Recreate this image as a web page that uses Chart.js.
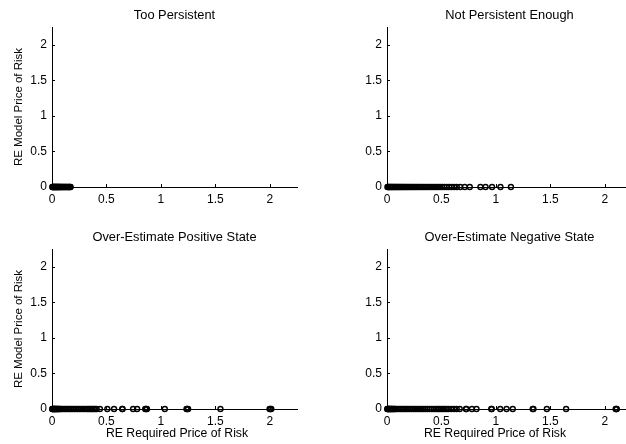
<!DOCTYPE html>
<html><head><meta charset="utf-8">
<script src="https://cdn.jsdelivr.net/npm/chart.js@4/dist/chart.umd.min.js"></script>
<style>
html,body{margin:0;padding:0;background:#fff;overflow:hidden;width:626px;height:444px;position:relative;}
canvas{position:absolute;}
</style></head><body>
<canvas id="c1" width="313" height="222" style="left:0;top:0"></canvas>
<canvas id="c2" width="340" height="222" style="left:313px;top:0"></canvas>
<canvas id="c3" width="313" height="222" style="left:0;top:222px"></canvas>
<canvas id="c4" width="340" height="222" style="left:313px;top:222px"></canvas>
<script>
// ---- data (x = RE Required Price of Risk, y = RE Model Price of Risk) ----
const xTicks = [0, 0.5, 1, 1.5, 2];
const yTicks = [0, 0.5, 1, 1.5, 2];
const titles = ["Too Persistent", "Not Persistent Enough", "Over-Estimate Positive State", "Over-Estimate Negative State"];
const xLabel = "RE Required Price of Risk";
const yLabel = "RE Model Price of Risk";

const tooPersistentReq = [0.003,0.006,0.01,0.013,0.017,0.021,0.024,0.029,0.033,0.036,0.041,0.045,0.049,0.054,0.058,0.063,0.068,0.072,0.077,0.083,0.088,0.094,0.1,0.107,0.113,0.12,0.127,0.133,0.14,0.147,0.153,0.16,0.166,0.171];
const tooPersistentModel = [0,0,0,0,0,0,0,0,0,0, 0,0,0,0,0,0,0,0,0,0, 0,0,0,0,0,0,0,0,0,0, 0,0,0,0];

const notEnoughReq = [0.004,0.01,0.016,0.023,0.03,0.037,0.045,0.052,0.06,0.068,0.077,0.085,0.094,0.103,0.112,0.122,0.131,0.141,0.152,0.162,0.173,0.184,0.196,0.208,0.22,0.233,0.246,0.259,0.273,0.287,0.301,0.316,0.331,0.347,0.363,0.38,0.397,0.414,0.432,0.45,0.468,0.487,0.507,0.527,0.548,0.57,0.593,0.617,0.641,0.672,0.714,0.76,0.858,0.905,0.965,1.042,1.138];
const notEnoughModel = [0,0,0,0,0,0,0,0,0,0, 0,0,0,0,0,0,0,0,0,0, 0,0,0,0,0,0,0,0,0,0, 0,0,0,0,0,0,0,0,0,0, 0,0,0,0,0,0,0,0,0,0, 0,0,0,0,0,0,0];

const posStateReq = [0.002,0.005,0.008,0.012,0.015,0.019,0.023,0.027,0.031,0.036,0.041,0.046,0.051,0.057,0.063,0.07,0.077,0.09,0.104,0.118,0.131,0.146,0.16,0.174,0.189,0.204,0.219,0.235,0.251,0.268,0.285,0.302,0.32,0.333,0.347,0.36,0.372,0.385,0.398,0.41,0.44,0.508,0.57,0.645,0.648,0.745,0.782,0.856,0.865,0.872,1.036,1.235,1.242,1.25,1.547,1.998,2.006,2.014];
const posStateModel = [0,0,0,0,0,0,0,0,0,0, 0,0,0,0,0,0,0,0,0,0, 0,0,0,0,0,0,0,0,0,0, 0,0,0,0,0,0,0,0,0,0, 0,0,0,0,0,0,0,0,0,0, 0,0,0,0,0,0,0,0];

const negStateReq = [0.002,0.006,0.01,0.014,0.019,0.024,0.029,0.034,0.04,0.046,0.052,0.059,0.066,0.074,0.082,0.097,0.112,0.127,0.142,0.158,0.174,0.19,0.207,0.224,0.241,0.259,0.277,0.295,0.313,0.332,0.351,0.37,0.39,0.41,0.43,0.448,0.465,0.48,0.497,0.512,0.53,0.548,0.565,0.59,0.615,0.64,0.668,0.726,0.728,0.78,0.822,0.958,0.962,1.04,1.098,1.155,1.338,1.345,1.468,1.645,2.1,2.106,2.11];
const negStateModel = [0,0,0,0,0,0,0,0,0,0, 0,0,0,0,0,0,0,0,0,0, 0,0,0,0,0,0,0,0,0,0, 0,0,0,0,0,0,0,0,0,0, 0,0,0,0,0,0,0,0,0,0, 0,0,0,0,0,0,0,0,0,0, 0,0,0];

const FONT = '"Liberation Sans", Arial, Helvetica, sans-serif';

function pairs(xs, ys) { return xs.map((x, i) => ({ x: x, y: ys[i] })); }

const decorPlugin = {
  id: 'decor',
  afterDatasetsDraw(chart, args, o) {
    const ctx = chart.ctx, a = chart.chartArea;
    const xs = chart.scales.x, ys = chart.scales.y;
    ctx.save();
    ctx.strokeStyle = '#000';
    ctx.lineWidth = 1;
    ctx.beginPath();
    xTicks.forEach(v => { if (v === 0) return; const p = Math.round(xs.getPixelForValue(v)) + 0.5; ctx.moveTo(p, a.bottom); ctx.lineTo(p, a.bottom - 3); });
    yTicks.forEach(v => { if (v === 0) return; const p = Math.round(ys.getPixelForValue(v)) + 0.5; ctx.moveTo(a.left, p); ctx.lineTo(a.left + 3, p); });
    ctx.stroke();
    ctx.fillStyle = '#000';
    ctx.font = '12px ' + FONT;
    ctx.textAlign = 'center';
    ctx.textBaseline = 'alphabetic';
    ctx.save();
    ctx.translate((a.left + a.right) / 2, 19);
    ctx.scale(1.07, 1);
    ctx.fillText(o.title, 0, 0);
    ctx.restore();
    if (o.showX) {
      ctx.save();
      ctx.font = '12px ' + FONT;
      ctx.translate(o.xLabelX, 215);
      ctx.scale(1.02, 1);
      ctx.fillText(xLabel, 0, 0);
      ctx.restore();
    }
    if (o.showY) {
      ctx.save();
      ctx.font = '11.5px ' + FONT;
      ctx.translate(21.5, (a.top + a.bottom) / 2);
      ctx.rotate(-Math.PI / 2);
      ctx.fillText(yLabel, 0, 0);
      ctx.restore();
    }
    ctx.restore();
  }
};

function makeChart(id, title, xs, ys, yAxisW, padRight, showX, showY, xLabelX) {
  return new Chart(document.getElementById(id), {
    type: 'scatter',
    data: { datasets: [{
      data: pairs(xs, ys),
      borderColor: '#000',
      backgroundColor: 'rgba(0,0,0,0)',
      borderWidth: 1.4,
      pointRadius: 2.5,
      pointHoverRadius: 2.5,
      clip: false
    }] },
    options: {
      responsive: false,
      animation: false,
      devicePixelRatio: 1,
      layout: { padding: { top: 27, right: padRight, bottom: 0, left: 0 } },
      plugins: {
        legend: { display: false },
        tooltip: { enabled: false },
        decor: { title: title, showX: showX, showY: showY, xLabelX: xLabelX }
      },
      scales: {
        x: {
          type: 'linear', min: 0, max: 2.25,
          afterBuildTicks: s => { s.ticks = xTicks.map(v => ({ value: v })); },
          afterFit: s => { s.height = 35; },
          grid: { display: false, drawTicks: false },
          border: { display: true, color: '#000', width: 1 },
          ticks: { color: '#000', font: { family: FONT, size: 12 }, padding: 5, maxRotation: 0, autoSkip: false, callback: v => String(v) }
        },
        y: {
          type: 'linear', min: 0, max: 2.25,
          afterBuildTicks: s => { s.ticks = yTicks.map(v => ({ value: v })); },
          afterFit: s => { s.width = yAxisW; },
          grid: { display: false, drawTicks: false },
          border: { display: true, color: '#000', width: 1 },
          ticks: { color: '#000', font: { family: FONT, size: 12 }, padding: 5, autoSkip: false, callback: v => String(v) }
        }
      }
    },
    plugins: [decorPlugin]
  });
}

makeChart('c1', titles[0], tooPersistentReq, tooPersistentModel, 52, 16, false, true, 177);
makeChart('c2', titles[1], notEnoughReq, notEnoughModel, 74, 21, false, false, 182);
makeChart('c3', titles[2], posStateReq, posStateModel, 52, 16, true, true, 177);
makeChart('c4', titles[3], negStateReq, negStateModel, 74, 21, true, false, 182);
</script>
</body></html>
